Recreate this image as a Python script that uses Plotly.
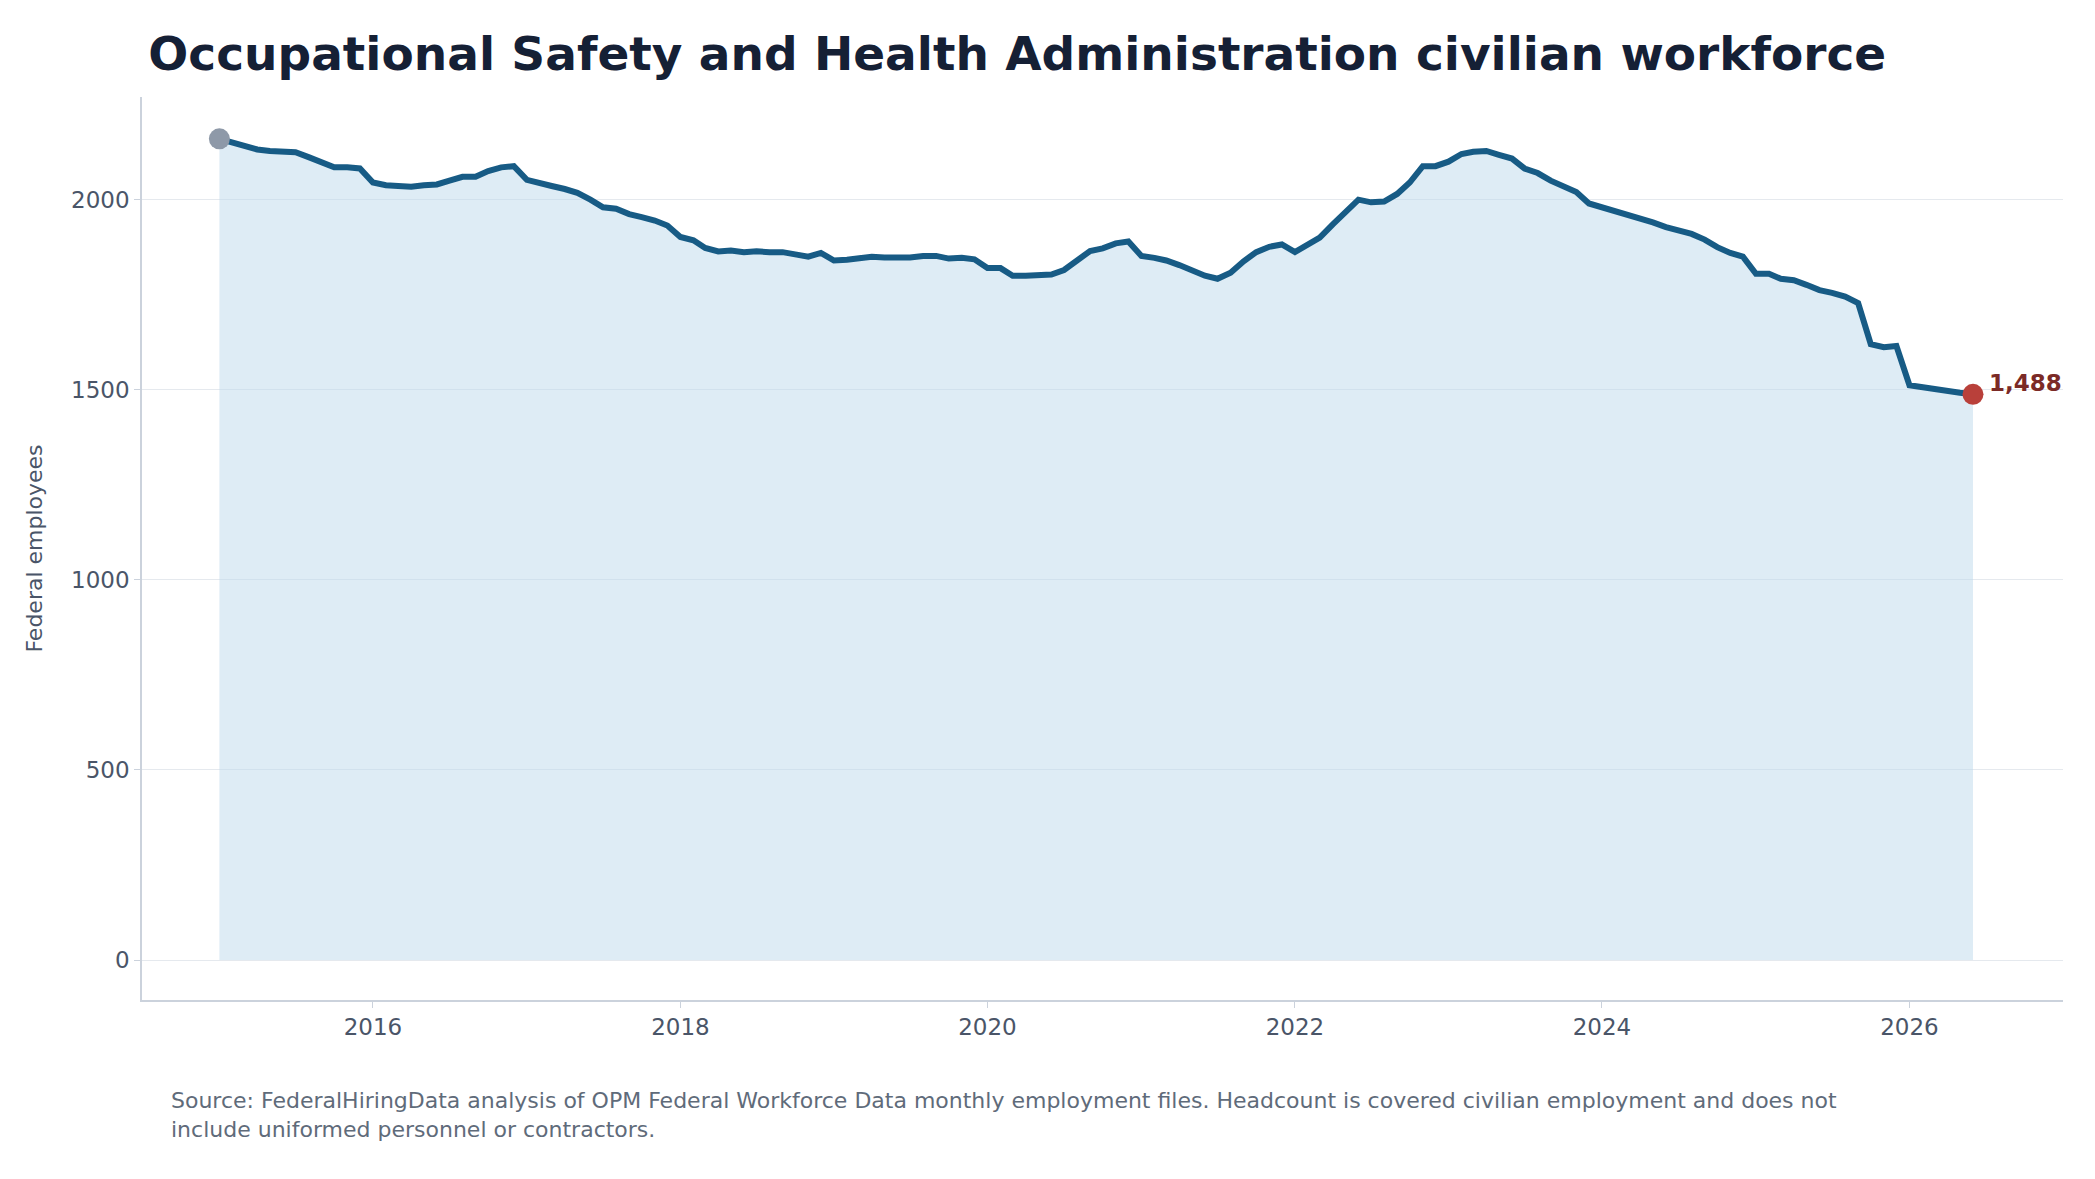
import pandas as pd
import plotly.graph_objs as go

# monthly headcount, Jan 2015 - Jun 2026
y2015 = [2160, 2150, 2140, 2132, 2128, 2128, 2125, 2112, 2100, 2085, 2085, 2082]
y2016 = [2045, 2038, 2036, 2034, 2038, 2040, 2050, 2060, 2060, 2075, 2085, 2088]
y2017 = [2052, 2042, 2036, 2028, 2018, 2000, 1980, 1976, 1962, 1954, 1945, 1932]
y2018 = [1902, 1893, 1873, 1864, 1866, 1862, 1864, 1862, 1862, 1856, 1850, 1860]
y2019 = [1840, 1842, 1845, 1850, 1848, 1847, 1848, 1852, 1852, 1845, 1847, 1843]
y2020 = [1820, 1820, 1800, 1800, 1803, 1803, 1815, 1840, 1865, 1872, 1885, 1890]
y2021 = [1852, 1847, 1840, 1828, 1814, 1800, 1792, 1808, 1838, 1862, 1876, 1882]
y2022 = [1862, 1880, 1900, 1935, 1968, 2000, 1993, 1995, 2015, 2045, 2088, 2088]
y2023 = [2100, 2120, 2126, 2128, 2118, 2108, 2082, 2070, 2050, 2034, 2020, 1990]
y2024 = [1980, 1972, 1962, 1952, 1940, 1928, 1920, 1910, 1895, 1875, 1860, 1850]
y2025 = [1805, 1805, 1792, 1788, 1776, 1762, 1755, 1745, 1728, 1620, 1612, 1615]
y2026 = [1512, 1506, 1502, 1497, 1492, 1488]

values = y2015 + y2016 + y2017 + y2018 + y2019 + y2020 + y2021 + y2022 + y2023 + y2024 + y2025 + y2026
dates = pd.date_range('2015-01-01', periods=len(values), freq='MS')

fnt = 'DejaVu Sans'
fig = go.Figure()
fig.add_trace(go.Scatter(x=dates, y=values, mode='lines', fill='tozeroy',
                         fillcolor='rgba(190,218,236,0.5)',
                         line=dict(color='#175b85', width=6), showlegend=False))
fig.add_trace(go.Scatter(x=[dates[0]], y=[values[0]], mode='markers',
                         marker=dict(color='#8e99a8', size=21), showlegend=False))
fig.add_trace(go.Scatter(x=[dates[-1]], y=[values[-1]], mode='markers',
                         marker=dict(color='#b9403a', size=21), showlegend=False))

fig.update_layout(
    width=2095, height=1179, plot_bgcolor='white', paper_bgcolor='white',
    margin=dict(l=134, r=40, t=89, b=187),
    font=dict(family=fnt, color='#4a5568', size=23),
    title=dict(text='<b>Occupational Safety and Health Administration civilian workforce</b>',
               x=0.067, xanchor='left', y=0.975, font=dict(size=47, color='#152035')),
    xaxis=dict(range=['2014-07-01', '2027-01-01'], showgrid=False, showline=True,
               linecolor='#cbd2dc', linewidth=1.5, ticks='outside', tickcolor='#cbd2dc',
               ticklen=6, dtick='M24', tick0='2016-01-01', tickformat='%Y'),
    yaxis=dict(range=[-105, 2270], showgrid=True, gridcolor='#e5e9ee', zeroline=False,
               showline=True, linecolor='#cbd2dc', linewidth=1.5, ticks='outside',
               tickcolor='#cbd2dc', ticklen=6, tickvals=[0, 500, 1000, 1500, 2000],
               title=dict(text='Federal employees', standoff=22, font=dict(size=22))),
    annotations=[
        dict(x=dates[-1], y=values[-1], xanchor='left', yanchor='bottom', xshift=14, yshift=-4,
             showarrow=False, text='<b>{:,}</b>'.format(values[-1]),
             font=dict(color='#7b2a26', size=23)),
        dict(xref='paper', yref='paper', x=0.014, y=-0.095, xanchor='left', yanchor='top',
             align='left', showarrow=False, font=dict(size=22, color='#5f6b7a'),
             text='Source: FederalHiringData analysis of OPM Federal Workforce Data monthly employment files. Headcount is covered civilian employment and does not<br>include uniformed personnel or contractors.')],
)
fig.write_html('out.html')
